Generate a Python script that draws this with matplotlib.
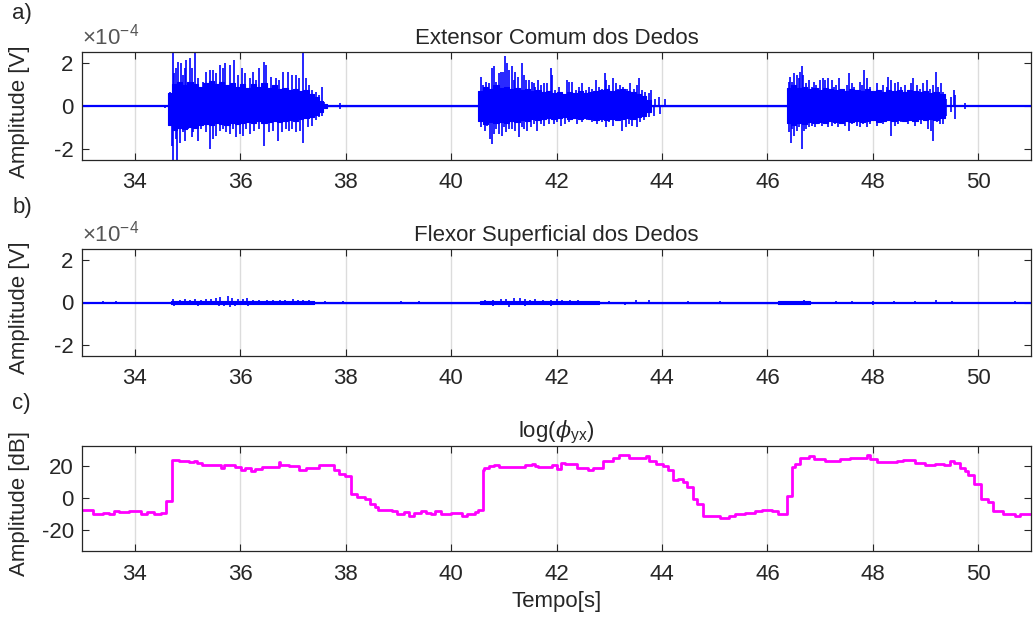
import matplotlib.pyplot as plt
import numpy as np

plt.rcParams['font.family'] = ['Liberation Sans', 'DejaVu Sans']
plt.rcParams['axes.unicode_minus'] = False
plt.rcParams['mathtext.fontset'] = 'custom'
plt.rcParams['mathtext.rm'] = 'Liberation Sans'
plt.rcParams['mathtext.it'] = 'DejaVu Serif:italic'

# ---- Extensor Comum dos Dedos (units of 1e-4 V) ----
# dense core of each burst: step envelope
ext_core_t = [34.64, 34.70, 34.80, 34.90, 35.00, 35.10, 35.20, 35.30, 35.40, 35.50,
              35.60, 35.70, 35.80, 35.90, 36.00, 36.10, 36.20, 36.30, 36.40, 36.50,
              36.60, 36.70, 36.80, 36.90, 37.00, 37.10, 37.20, 37.30, 37.40, 37.50,
              37.58, 37.65,
              40.52, 40.60, 40.70, 40.80, 40.90, 41.00, 41.10, 41.20, 41.30, 41.40,
              41.50, 41.60, 41.70, 41.80, 41.90, 42.00, 42.10, 42.20, 42.30, 42.40,
              42.50, 42.60, 42.70, 42.80, 42.90, 43.00, 43.10, 43.20, 43.30, 43.40,
              43.50, 43.60, 43.70, 43.80,
              46.37, 46.45, 46.55, 46.65, 46.75, 46.85, 46.95, 47.05, 47.15, 47.25,
              47.35, 47.45, 47.55, 47.65, 47.75, 47.85, 47.95, 48.05, 48.15, 48.25,
              48.35, 48.45, 48.55, 48.65, 48.75, 48.85, 48.95, 49.05, 49.15, 49.25,
              49.36]
ext_core_up = [0.60, 1.00, 1.10, 0.95, 1.10, 1.00, 0.90, 1.05, 1.15, 1.00,
               1.10, 0.95, 1.05, 0.90, 1.00, 0.85, 1.00, 0.90, 1.05, 0.85,
               0.95, 0.80, 0.85, 0.75, 0.80, 0.70, 0.75, 0.55, 0.40, 0.25,
               0.10, 0.0,
               0.70, 0.90, 0.80, 0.95, 0.85, 0.90, 0.80, 0.85, 0.75, 0.80,
               0.70, 0.75, 0.65, 0.70, 0.60, 0.65, 0.55, 0.65, 0.60, 0.70,
               0.60, 0.65, 0.70, 0.75, 0.80, 0.70, 0.75, 0.80, 0.70, 0.65,
               0.55, 0.45, 0.30, 0.0,
               0.85, 0.95, 0.85, 0.90, 0.80, 0.85, 0.75, 0.85, 0.80, 0.75,
               0.80, 0.70, 0.80, 0.75, 0.70, 0.80, 0.70, 0.75, 0.65, 0.75,
               0.70, 0.75, 0.65, 0.75, 0.70, 0.65, 0.70, 0.60, 0.65, 0.55,
               0.0]
ext_core_lo = [-0.90, -1.10, -1.00, -1.05, -0.95, -1.00, -0.90, -0.85, -0.90, -0.80,
               -0.85, -0.90, -0.80, -0.85, -0.80, -0.75, -0.80, -0.70, -0.80, -0.75,
               -0.70, -0.75, -0.70, -0.65, -0.70, -0.60, -0.55, -0.50, -0.40, -0.30,
               -0.10, 0.0,
               -0.70, -0.85, -0.75, -0.80, -0.75, -0.80, -0.70, -0.75, -0.65, -0.70,
               -0.60, -0.65, -0.60, -0.55, -0.60, -0.55, -0.50, -0.60, -0.55, -0.60,
               -0.55, -0.60, -0.65, -0.60, -0.65, -0.60, -0.65, -0.60, -0.55, -0.60,
               -0.50, -0.45, -0.30, 0.0,
               -0.80, -0.90, -0.80, -0.85, -0.75, -0.80, -0.75, -0.80, -0.70, -0.75,
               -0.80, -0.70, -0.75, -0.70, -0.75, -0.70, -0.65, -0.75, -0.70, -0.65,
               -0.70, -0.65, -0.70, -0.65, -0.70, -0.60, -0.65, -0.60, -0.65, -0.55,
               0.0]

# positive peaks
ext_up_t = [34.67, 34.72, 34.75, 34.79, 34.82, 34.87, 34.91, 34.95, 34.98, 35.04,
            35.08, 35.15, 35.20, 35.30, 35.36, 35.42, 35.48, 35.55, 35.61, 35.67,
            35.72, 35.80, 35.89, 35.96, 36.04, 36.10, 36.18, 36.24, 36.30, 36.36,
            36.46, 36.49, 36.58, 36.68, 36.74, 36.82, 36.90, 36.99, 37.06, 37.12,
            37.20, 37.25, 37.31, 37.37, 37.43, 37.50, 37.55, 37.59, 37.90,
            40.56, 40.61, 40.66, 40.71, 40.77, 40.81, 40.86, 40.91, 40.95, 40.98,
            41.02, 41.07, 41.10, 41.15, 41.19, 41.22, 41.27, 41.34, 41.38, 41.43,
            41.48, 41.53, 41.57, 41.60, 41.64, 41.70, 41.76, 41.82, 41.89, 41.92,
            41.97, 42.04, 42.11, 42.19, 42.23, 42.30, 42.36, 42.42, 42.49, 42.55,
            42.61, 42.68, 42.74, 42.80, 42.86, 42.91, 42.94, 42.99, 43.07, 43.12,
            43.17, 43.21, 43.27, 43.34, 43.40, 43.46, 43.53, 43.57, 43.62, 43.68,
            43.75, 43.80, 43.87, 43.94, 44.06,
            46.40, 46.43, 46.47, 46.51, 46.56, 46.59, 46.62, 46.65, 46.68, 46.73,
            46.78, 46.84, 46.89, 46.93, 47.00, 47.05, 47.09, 47.15, 47.22, 47.27,
            47.31, 47.36, 47.41, 47.45, 47.50, 47.55, 47.60, 47.65, 47.70, 47.75,
            47.80, 47.84, 47.88, 47.94, 48.01, 48.07, 48.13, 48.20, 48.26, 48.29,
            48.35, 48.42, 48.48, 48.54, 48.61, 48.67, 48.73, 48.77, 48.83, 48.89,
            48.95, 49.02, 49.08, 49.14, 49.19, 49.24, 49.29, 49.33, 49.39, 49.49,
            49.53, 49.56, 49.74]
ext_up_v = [0.66, 2.60, 1.52, 1.75, 2.06, 1.98, 1.44, 1.75, 2.14, 2.22,
            1.75, 2.60, 1.28, 1.13, 1.59, 1.67, 1.67, 1.52, 1.91, 1.75,
            1.98, 1.91, 2.14, 1.44, 1.75, 1.52, 1.28, 1.59, 1.20, 1.75,
            2.06, 1.91, 1.36, 1.28, 1.20, 1.59, 1.59, 1.44, 1.44, 1.28,
            2.60, 1.28, 0.97, 0.73, 0.66, 0.50, 0.89, 0.19, 0.12,
            1.36, 0.97, 1.13, 1.05, 1.78, 1.83, 1.13, 1.52, 1.59, 1.59,
            2.30, 1.98, 1.67, 1.83, 1.20, 1.59, 1.36, 1.98, 1.44, 1.20,
            1.20, 1.13, 1.05, 0.89, 1.20, 0.97, 1.05, 1.05, 1.75, 1.44,
            0.73, 0.89, 0.66, 1.20, 1.13, 1.13, 0.73, 0.89, 1.05, 0.73,
            0.89, 0.81, 1.20, 0.89, 0.81, 1.52, 1.20, 0.97, 1.28, 1.05,
            0.81, 0.97, 0.89, 0.81, 1.05, 0.81, 0.97, 1.31, 0.73, 0.66,
            0.58, 0.73, 0.34, 0.42, 0.34,
            1.13, 1.36, 1.13, 1.52, 1.44, 1.28, 1.59, 1.83, 1.44, 1.05,
            1.20, 0.89, 1.13, 0.97, 1.20, 1.28, 1.20, 1.28, 1.20, 0.89,
            0.97, 1.28, 0.81, 0.81, 0.97, 1.52, 1.05, 0.89, 0.73, 1.13,
            0.97, 1.67, 1.28, 0.89, 0.66, 1.05, 0.66, 0.97, 0.89, 1.36,
            1.20, 1.05, 1.13, 0.89, 0.97, 0.73, 1.05, 1.28, 0.97, 0.81,
            1.05, 1.20, 0.81, 0.97, 1.59, 0.89, 1.05, 0.66, 0.34, 0.42,
            0.73, 0.50, 0.16]

# negative peaks
ext_lo_t = [34.57, 34.67, 34.70, 34.73, 34.78, 34.81, 34.86, 34.91, 34.95, 35.01,
            35.08, 35.11, 35.20, 35.26, 35.36, 35.42, 35.48, 35.55, 35.61, 35.67,
            35.74, 35.80, 35.86, 35.92, 35.99, 36.06, 36.11, 36.18, 36.27, 36.36,
            36.46, 36.55, 36.62, 36.71, 36.79, 36.87, 36.93, 36.99, 37.06, 37.13,
            37.20, 37.28, 37.36, 37.43, 37.50, 37.55, 37.90,
            40.56, 40.59, 40.64, 40.69, 40.73, 40.77, 40.81, 40.86, 40.91, 40.96,
            41.00, 41.05, 41.10, 41.16, 41.22, 41.29, 41.34, 41.38, 41.44, 41.51,
            41.57, 41.63, 41.70, 41.76, 41.85, 41.95, 42.01, 42.08, 42.17, 42.23,
            42.30, 42.39, 42.49, 42.58, 42.68, 42.77, 42.86, 42.94, 42.99, 43.07,
            43.15, 43.24, 43.31, 43.37, 43.43, 43.53, 43.59, 43.65, 43.75, 43.84,
            43.97,
            46.41, 46.44, 46.47, 46.51, 46.56, 46.60, 46.65, 46.70, 46.74, 46.79,
            46.84, 46.90, 46.97, 47.03, 47.09, 47.15, 47.22, 47.28, 47.34, 47.41,
            47.47, 47.55, 47.61, 47.69, 47.75, 47.82, 47.88, 47.94, 48.01, 48.07,
            48.13, 48.20, 48.26, 48.34, 48.42, 48.48, 48.54, 48.61, 48.67, 48.73,
            48.79, 48.86, 48.92, 48.98, 49.05, 49.10, 49.14, 49.21, 49.27, 49.33,
            49.39, 49.49, 49.55, 49.74]
ext_lo_v = [-0.10, -0.91, -1.84, -2.60, -1.53, -2.60, -1.69, -1.22, -1.61, -1.06,
            -1.45, -1.22, -1.61, -1.06, -1.22, -2.00, -1.53, -1.38, -1.14, -1.06,
            -1.22, -1.30, -1.06, -1.45, -1.30, -1.38, -1.06, -1.30, -1.14, -1.06,
            -1.84, -1.22, -1.14, -1.61, -1.22, -1.06, -1.14, -1.06, -1.22, -1.14,
            -1.69, -0.98, -0.91, -0.67, -0.52, -0.44, -0.12,
            -0.98, -0.67, -1.14, -0.91, -1.53, -1.77, -1.30, -1.06, -1.30, -1.38,
            -0.98, -1.22, -1.06, -1.06, -1.14, -1.45, -0.98, -1.06, -1.14, -0.98,
            -0.83, -1.14, -0.83, -0.91, -0.83, -0.83, -0.75, -0.91, -0.83, -0.75,
            -0.67, -0.83, -0.75, -0.67, -0.75, -0.83, -0.75, -0.98, -0.75, -0.91,
            -0.67, -1.14, -0.98, -0.83, -0.91, -0.98, -0.75, -0.67, -0.52, -0.44,
            -0.36,
            -1.22, -1.69, -1.06, -1.38, -1.14, -0.98, -2.00, -1.14, -1.06, -0.98,
            -0.91, -0.98, -0.83, -0.91, -0.83, -0.98, -0.91, -0.83, -0.98, -0.75,
            -0.91, -1.14, -0.83, -0.91, -0.98, -0.83, -0.98, -0.83, -0.67, -0.91,
            -0.75, -0.83, -0.67, -1.38, -0.91, -0.83, -0.75, -0.75, -0.83, -0.67,
            -0.91, -0.75, -0.83, -0.67, -1.06, -1.14, -1.61, -0.75, -0.83, -0.83,
            -0.44, -0.28, -0.59, -0.13]

# ---- Flexor Superficial dos Dedos (units of 1e-4 V) ----
flx_core_t = [34.68, 36.40, 37.40, 40.55, 41.50, 42.80, 46.20, 46.80]
flx_core_up = [0.09, 0.06, 0.0, 0.08, 0.05, 0.0, 0.05, 0.0]
flx_core_lo = [-0.09, -0.06, 0.0, -0.08, -0.05, 0.0, -0.05, 0.0]

flx_up_t = [33.40, 33.65, 34.72, 34.85, 34.95, 35.05, 35.15, 35.25, 35.35, 35.45,
            35.55, 35.62, 35.77, 35.85, 35.95, 36.05, 36.12, 36.25, 36.35, 36.50,
            36.62, 36.75, 36.85, 37.00, 37.10, 37.20, 37.30, 37.40, 37.60, 37.95,
            39.05, 39.40, 40.65, 40.80, 40.95, 41.05, 41.20, 41.30, 41.40, 41.50,
            41.60, 41.75, 41.90, 42.00, 42.10, 42.25, 42.40, 42.55, 42.70, 43.00,
            43.50, 43.75, 44.50, 45.10, 46.50, 46.60, 46.70, 47.30, 47.60, 48.00,
            48.40, 48.80, 49.20, 49.50, 50.70]
flx_up_v = [0.08, 0.08, 0.15, 0.12, 0.18, 0.14, 0.16, 0.12, 0.15, 0.18,
            0.20, 0.25, 0.32, 0.20, 0.15, 0.18, 0.20, 0.14, 0.12, 0.13,
            0.10, 0.12, 0.10, 0.15, 0.12, 0.10, 0.14, 0.08, 0.06, 0.06,
            0.08, 0.07, 0.10, 0.12, 0.18, 0.15, 0.20, 0.22, 0.15, 0.12,
            0.16, 0.10, 0.12, 0.15, 0.10, 0.12, 0.10, 0.08, 0.07, 0.08,
            0.10, 0.10, 0.06, 0.06, 0.08, 0.07, 0.10, 0.06, 0.07, 0.08,
            0.06, 0.08, 0.10, 0.06, 0.07]
flx_lo_t = [34.75, 34.90, 35.00, 35.10, 35.20, 35.30, 35.40, 35.50, 35.60, 35.70,
            35.80, 35.90, 36.00, 36.15, 36.30, 36.45, 36.60, 36.75, 36.90, 37.05,
            37.20, 37.40, 38.00, 40.70, 40.80, 40.90, 41.00, 41.10, 41.25, 41.40,
            41.55, 41.70, 41.90, 42.05, 42.20, 42.35, 42.50, 42.65, 43.30, 44.70,
            45.60, 46.40, 46.50, 46.60, 48.00, 49.30]
flx_lo_v = [-0.15, -0.12, -0.14, -0.10, -0.18, -0.12, -0.14, -0.12, -0.15, -0.18,
            -0.20, -0.15, -0.12, -0.18, -0.12, -0.10, -0.12, -0.10, -0.12, -0.10,
            -0.08, -0.10, -0.08, -0.10, -0.15, -0.12, -0.14, -0.20, -0.12, -0.15,
            -0.12, -0.14, -0.18, -0.10, -0.12, -0.08, -0.10, -0.07, -0.12, -0.07,
            -0.08, -0.10, -0.08, -0.10, -0.10, -0.08]

# ---- log(phi_yx) in dB, piecewise constant ----
phi_t = [33.00, 33.20, 33.39, 33.51, 33.61, 33.70, 33.89, 34.11, 34.24, 34.37,
         34.49, 34.59, 34.70, 34.84, 35.03, 35.12, 35.19, 35.28, 35.63, 35.69,
         35.91, 36.01, 36.10, 36.20, 36.29, 36.42, 36.73, 36.76, 36.92, 37.11,
         37.24, 37.49, 37.77, 37.87, 37.99, 38.11, 38.21, 38.37, 38.47, 38.56,
         38.62, 38.88, 38.97, 39.10, 39.20, 39.30, 39.42, 39.52, 39.61, 39.70,
         39.80, 39.99, 40.21, 40.30, 40.46, 40.52, 40.60, 40.62, 40.71, 40.81,
         40.90, 41.40, 41.53, 41.59, 41.65, 41.91, 42.00, 42.09, 42.16, 42.38,
         42.60, 42.69, 42.88, 43.07, 43.19, 43.38, 43.70, 43.76, 43.89, 44.01,
         44.11, 44.20, 44.30, 44.39, 44.48, 44.58, 44.67, 44.77, 44.89, 45.11,
         45.27, 45.39, 45.58, 45.77, 45.90, 46.09, 46.21, 46.37, 46.47, 46.53,
         46.62, 46.78, 46.88, 47.10, 47.38, 47.57, 47.89, 47.95, 48.08, 48.45,
         48.58, 48.80, 48.99, 49.18, 49.34, 49.46, 49.53, 49.65, 49.75, 49.81,
         49.91, 50.06, 50.19, 50.28, 50.47, 50.69, 50.79, 51.00]
phi_db = [-7.7, -9.7, -9.3, -9.8, -8.3, -9.0, -8.3, -9.7, -9.0, -9.7,
          -9.3, -2.0, 23.8, 23.0, 22.4, 23.2, 22.0, 20.5, 18.6, 20.5,
          19.5, 17.6, 18.4, 16.8, 17.8, 19.3, 22.2, 20.7, 19.9, 17.6,
          18.6, 20.5, 17.6, 15.1, 13.5, 2.7, 0.6, -0.8, -3.5, -5.6,
          -7.2, -8.0, -10.0, -8.7, -11.4, -9.3, -8.3, -9.3, -10.0, -8.3,
          -9.7, -9.1, -11.0, -10.0, -8.7, -7.7, 17.6, 18.4, 19.7, 20.5,
          19.5, 20.3, 21.3, 19.9, 19.3, 20.5, 18.2, 21.7, 21.3, 18.4,
          17.2, 18.6, 23.0, 24.8, 26.5, 24.8, 25.9, 22.8, 20.9, 19.7,
          17.2, 11.4, 12.0, 9.9, 6.8, -0.4, -3.5, -11.4, -11.2, -12.2,
          -11.4, -10.1, -9.1, -8.3, -7.2, -8.1, -9.7, 1.0, 19.3, 20.9,
          24.8, 25.9, 24.0, 22.8, 24.0, 24.8, 26.5, 24.4, 22.2, 23.0,
          23.8, 21.9, 20.3, 21.3, 20.7, 22.8, 21.7, 18.6, 16.8, 14.1,
          8.9, -0.4, -2.5, -8.3, -10.1, -11.4, -10.1, -10.1]

xticks = [34, 36, 38, 40, 42, 44, 46, 48, 50]
txt = '#262626'
blue = '#0000ff'
fs = 16

fig = plt.figure(figsize=(10.33, 6.25), dpi=100)
ax1 = fig.add_axes([0.0794, 0.744, 0.9187, 0.1728])
ax2 = fig.add_axes([0.0794, 0.4304, 0.9187, 0.1712])
ax3 = fig.add_axes([0.0794, 0.1184, 0.9187, 0.168])


def style(ax):
    ax.set_xlim(33, 51)
    ax.set_xticks(xticks)
    ax.tick_params(direction='in', top=True, right=True, length=5, width=0.8,
                   colors=txt, labelsize=fs)
    ax.tick_params(axis='x', pad=9)
    ax.tick_params(axis='y', pad=6)
    ax.grid(axis='x', color='#dcdcdc', lw=1)
    ax.set_axisbelow(True)
    for s in ax.spines.values():
        s.set_color(txt)
        s.set_linewidth(0.9)


def emg(ax, core_t, core_up, core_lo, up_t, up_v, lo_t, lo_v, title):
    ax.plot([33, 51], [0, 0], color=blue, lw=1.6)
    ax.fill_between(core_t, core_lo, core_up, step='post', color=blue, lw=0.8)
    ax.vlines(up_t, 0, up_v, color=blue, lw=1.2)
    ax.vlines(lo_t, lo_v, 0, color=blue, lw=1.2)
    ax.set_ylim(-2.5, 2.5)
    ax.set_yticks([-2, 0, 2])
    style(ax)
    ax.set_title(title, fontsize=fs, color=txt, pad=6)
    ax.text(0.0, 1.02, r'$\times\mathrm{10}^{-4}$', transform=ax.transAxes,
            fontsize=fs, color='#555555', ha='left', va='bottom')
    ax.set_ylabel('Amplitude [V]', fontsize=fs, color=txt)
    ax.yaxis.set_label_coords(-0.055, 0.45)


emg(ax1, ext_core_t, ext_core_up, ext_core_lo, ext_up_t, ext_up_v,
    ext_lo_t, ext_lo_v, 'Extensor Comum dos Dedos')
emg(ax2, flx_core_t, flx_core_up, flx_core_lo, flx_up_t, flx_up_v,
    flx_lo_t, flx_lo_v, 'Flexor Superficial dos Dedos')

ax3.step(phi_t, phi_db, where='post', color='#ff00ff', lw=2.0)
ax3.set_ylim(-33, 32.3)
ax3.set_yticks([-20, 0, 20])
style(ax3)
ax3.set_title(r'log($\phi_{\mathrm{yx}}$)', fontsize=fs, color=txt, pad=6)
ax3.set_ylabel('Amplitude [dB]', fontsize=fs, color=txt)
ax3.yaxis.set_label_coords(-0.055, 0.45)
ax3.set_xlabel('Tempo[s]', fontsize=fs, color=txt, labelpad=5)

fig.text(0.012, 0.995, 'a)', fontsize=fs, color=txt, va='top')
fig.text(0.012, 0.685, 'b)', fontsize=fs, color=txt, va='top')
fig.text(0.012, 0.372, 'c)', fontsize=fs, color=txt, va='top')

fig.savefig('out.png', dpi=100)
